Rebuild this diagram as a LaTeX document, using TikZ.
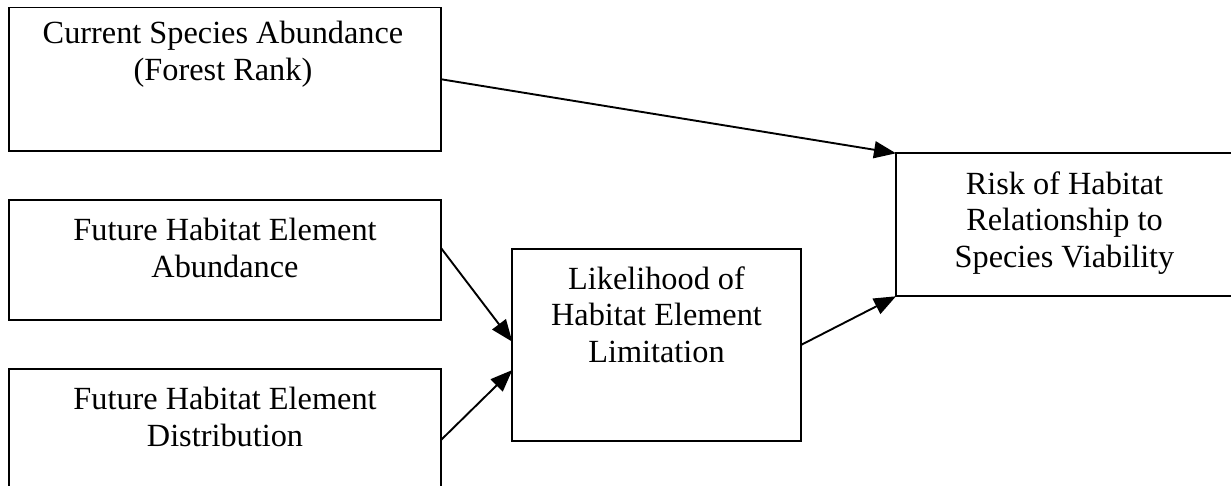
\documentclass[tikz,border=0pt]{standalone}
\usepackage{fontspec}
\setmainfont{Liberation Serif}
\usetikzlibrary{arrows.meta,calc}
\begin{document}
\begin{tikzpicture}[x=1pt,y=-1pt,
  box/.style={draw,line width=1.9pt,rectangle,inner sep=0pt,outer sep=0pt,anchor=north west},
  lbl/.style={anchor=north,align=center,inner sep=0pt,font=\fontsize{32.3}{36.5}\selectfont},
  arr/.style={line width=1.9pt,-{Triangle[length=22pt,width=17pt]}}]
\useasboundingbox (0,0) rectangle (1231,486);
\clip (0,0) rectangle (1231,486);
\node[box,minimum width=432pt,minimum height=143.5pt] (cur) at (9,7.5) {};
\node[box,minimum width=432pt,minimum height=120pt] (fab) at (9,200) {};
\node[box,minimum width=432pt,minimum height=150pt] (fdi) at (9,369) {};
\node[box,minimum width=288.5pt,minimum height=191.5pt] (lik) at (512.3,249.3) {};
\node[box,minimum width=337pt,minimum height=143pt] (risk) at (896,153.3) {};
\node[lbl] (tcur) at (223,21.3) {Current Species Abundance\\(Forest Rank)};
\node[lbl] (tfab) at (225,218) {Future Habitat Element\\Abundance};
\node[lbl] (tfdi) at (225,387.3) {Future Habitat Element\\Distribution};
\node[lbl] (tlik) at (656.5,266.3) {Likelihood of\\Habitat Element\\Limitation};
\node[lbl] (trisk) at (1064.5,171.3) {Risk of Habitat\\Relationship to\\Species Viability};
\draw[arr] (cur.east) -- (risk.north west);
\draw[arr] ($(fab.north east)+(0,48)$) -- ($(lik.west)+(0,-3.3)$);
\draw[arr] ($(fdi.north east)+(0,71)$) -- ($(lik.west)+(0,25)$);
\draw[arr] (lik.east) -- (risk.south west);
\end{tikzpicture}
\end{document}
